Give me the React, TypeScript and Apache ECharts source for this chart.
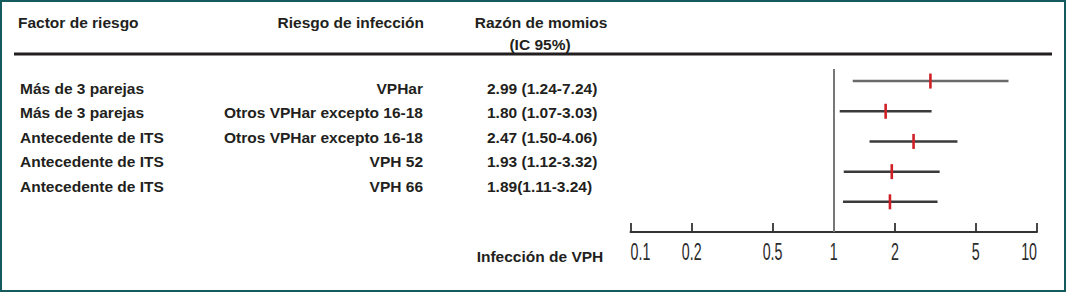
import React, { useEffect, useRef } from "react";
import * as echarts from "echarts";

const HEADER_FACTOR = "Factor de riesgo";
const HEADER_INFECTION = "Riesgo de infección";
const HEADER_OR = ["Razón de momios", "(IC 95%)"];
const FACTORS = ["Más de 3 parejas", "Más de 3 parejas", "Antecedente de ITS", "Antecedente de ITS", "Antecedente de ITS"];
const INFECTIONS = ["VPHar", "Otros VPHar excepto 16-18", "Otros VPHar excepto 16-18", "VPH 52", "VPH 66"];
const OR_LABELS = ["2.99 (1.24-7.24)", "1.80 (1.07-3.03)", "2.47 (1.50-4.06)", "1.93 (1.12-3.32)", "1.89(1.11-3.24)"];
const OR_VALUES = [2.99, 1.8, 2.47, 1.93, 1.89];
const CI_LOWER = [1.24, 1.07, 1.5, 1.12, 1.11];
const CI_UPPER = [7.24, 3.03, 4.06, 3.32, 3.24];
const TICK_VALUES = [0.1, 0.2, 0.5, 1, 2, 5, 10];
const TICK_LABELS = ["0.1", "0.2", "0.5", "1", "2", "5", "10"];
const X_TITLE = "Infección de VPH";

const FONT = "'Liberation Sans', Arial, Helvetica, sans-serif";

export default function App() {
  const ref = useRef<HTMLDivElement>(null);
  useEffect(() => {
    if (!ref.current) return;
    const chart = echarts.init(ref.current, null, { renderer: "svg" });
    const lg = (v: number) => Math.log10(v);
    const data = OR_VALUES.map((v, i) => [i, lg(CI_LOWER[i]), lg(v), lg(CI_UPPER[i])]);
    const tickLogs = TICK_VALUES.map(lg);
    const textStyle = (extra: any) => ({
      fontFamily: FONT,
      fontWeight: "bold",
      fontSize: 15.5,
      fill: "#231f20",
      verticalAlign: "middle",
      ...extra,
    });
    const rowY = [88, 112.5, 137, 161.5, 186];
    const graphics: any[] = [
      { type: "rect", shape: { x: 1, y: 1, width: 1064, height: 290 }, style: { fill: "none", stroke: "#135b5c", lineWidth: 2 }, silent: true },
      { type: "line", shape: { x1: 14, y1: 54, x2: 1052, y2: 54 }, style: { stroke: "#231f20", lineWidth: 3 }, silent: true },
      { type: "text", x: 18, y: 22, style: textStyle({ text: HEADER_FACTOR, align: "left" }) },
      { type: "text", x: 424, y: 22, style: textStyle({ text: HEADER_INFECTION, align: "right" }) },
      { type: "text", x: 541, y: 22, style: textStyle({ text: HEADER_OR[0], align: "center" }) },
      { type: "text", x: 540, y: 44, style: textStyle({ text: HEADER_OR[1], align: "center" }) },
      { type: "text", x: 540, y: 256, style: textStyle({ text: X_TITLE, align: "center" }) },
    ];
    FACTORS.forEach((f, i) => {
      graphics.push({ type: "text", x: 20, y: rowY[i], style: textStyle({ text: f, align: "left" }) });
      graphics.push({ type: "text", x: 423, y: rowY[i], style: textStyle({ text: INFECTIONS[i], align: "right" }) });
      graphics.push({ type: "text", x: 487, y: rowY[i], style: textStyle({ text: OR_LABELS[i], align: "left" }) });
    });

    chart.setOption({
      animation: false,
      backgroundColor: "#ffffff",
      grid: { left: 630.5, right: 29, top: 69, bottom: 60, containLabel: false },
      xAxis: {
        type: "value",
        min: -1,
        max: 1,
        position: "bottom",
        splitLine: { show: false },
        axisLine: { show: true, onZero: false, lineStyle: { color: "#333", width: 2 } },
        axisTick: { show: true, inside: true, length: 9, customValues: tickLogs, lineStyle: { color: "#333", width: 1.8 } },
        axisLabel: { show: false },
      },
      yAxis: { type: "value", inverse: true, min: -0.4, max: 5, show: false },
      series: [
        {
          type: "custom",
          data,
          encode: { x: [1, 2, 3], y: 0 },
          renderItem: (params: any, api: any) => {
            const i = api.value(0);
            const lo = api.coord([api.value(1), i]);
            const mid = api.coord([api.value(2), i]);
            const hi = api.coord([api.value(3), i]);
            return {
              type: "group",
              children: [
                {
                  type: "line",
                  shape: { x1: lo[0], y1: lo[1], x2: hi[0], y2: hi[1] },
                  style: { stroke: i === 0 ? "#6a6a6a" : "#3a3a3a", lineWidth: 2.5 },
                },
                {
                  type: "rect",
                  shape: { x: mid[0] - 1.3, y: mid[1] - 7.5, width: 2.6, height: 15 },
                  style: { fill: "#cf2027" },
                },
              ],
            };
          },
          markLine: {
            silent: true,
            symbol: "none",
            label: { show: false },
            lineStyle: { color: "#777", width: 2, type: "solid" },
            data: [{ xAxis: 0 }],
          },
        },
      ],
    });

    // Tick labels in a condensed face, placed by the x axis scale
    const axisY = chart.convertToPixel({ yAxisIndex: 0 }, 5) as number;
    const last = TICK_VALUES.length - 1;
    TICK_VALUES.forEach((v, k) => {
      const px = chart.convertToPixel({ xAxisIndex: 0 }, lg(v)) as number;
      graphics.push({
        type: "text",
        x: px,
        y: axisY + 20,
        scaleX: 0.62,
        silent: true,
        style: {
          text: TICK_LABELS[k],
          align: k === 0 ? "left" : k === last ? "right" : "center",
          verticalAlign: "middle",
          fontFamily: FONT,
          fontSize: 23,
          fill: "#2b2b2b",
        },
      });
    });
    chart.setOption({ graphic: graphics });
    return () => chart.dispose();
  }, []);
  return <div ref={ref} style={{ position: "absolute", left: 0, top: 0, width: 1066, height: 292 }} />;
}
